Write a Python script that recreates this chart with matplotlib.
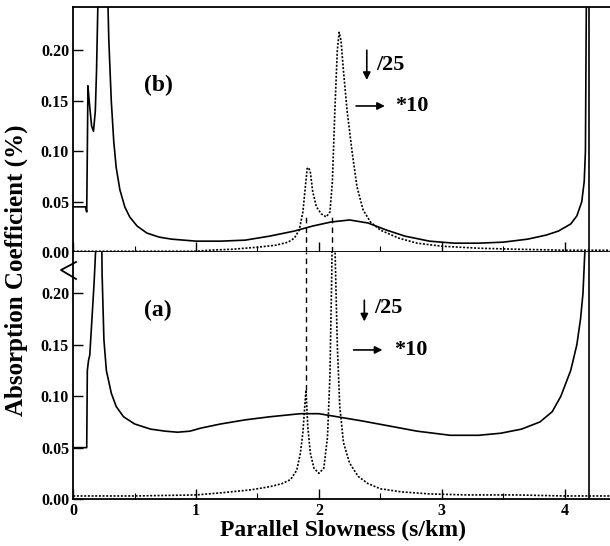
import numpy as np
import matplotlib
matplotlib.use("Agg")
from matplotlib import pyplot as plt
from matplotlib.lines import Line2D

plt.rcParams['font.family'] = ['Liberation Serif', 'DejaVu Serif']
plt.rcParams['font.weight'] = 'bold'

# panel (b), solid curve
xb_solid = [0, 0.10, 0.11, 0.115, 0.12, 0.13, 0.15, 0.165, 0.18, 0.19, 0.20, 0.22, 0.25,
            0.27, 0.28, 0.29, 0.31, 0.33, 0.35, 0.38, 0.42, 0.46, 0.52, 0.6, 0.7, 0.8,
            0.9, 1.0, 1.2, 1.4, 1.6, 1.8, 1.95, 2.1, 2.25, 2.4, 2.55, 2.7, 2.9, 3.1,
            3.3, 3.5, 3.7, 3.85, 3.95, 4.05, 4.1, 4.14, 4.16, 4.17, 4.18]
yb_solid = [0.045, 0.045, 0.04, 0.10, 0.165, 0.15, 0.125, 0.12, 0.14, 0.18, 0.24, 0.4, 0.6,
            0.4, 0.26, 0.21, 0.15, 0.11, 0.084, 0.062, 0.045, 0.035, 0.026, 0.019, 0.015, 0.013,
            0.012, 0.011, 0.011, 0.012, 0.016, 0.021, 0.026, 0.030, 0.032, 0.029, 0.022, 0.016, 0.011, 0.009,
            0.009, 0.010, 0.013, 0.017, 0.021, 0.028, 0.036, 0.05, 0.07, 0.10, 0.30]

# panel (b), dotted curve
xb_dot = [0, 0.5, 1.0, 1.1, 1.3, 1.5, 1.65, 1.75, 1.8, 1.84, 1.87, 1.89, 1.905, 1.915, 1.93,
          1.95, 1.98, 2.02, 2.06, 2.09, 2.11, 2.13, 2.15, 2.165, 2.18, 2.2, 2.23, 2.27, 2.31,
          2.36, 2.42, 2.5, 2.65, 2.8, 3.0, 3.3, 3.6, 4.0, 4.37]
yb_dot = [0.001, 0.001, 0.001, 0.002, 0.003, 0.005, 0.007, 0.010, 0.014, 0.022, 0.04, 0.065, 0.083, 0.084, 0.08,
          0.06, 0.045, 0.038, 0.035, 0.04, 0.07, 0.14, 0.2, 0.218, 0.21, 0.18, 0.14, 0.10, 0.065,
          0.042, 0.03, 0.022, 0.014, 0.009, 0.006, 0.004, 0.003, 0.002, 0.002]

# panel (a), solid curve
xa_solid = [0, 0.11, 0.115, 0.125, 0.135, 0.15, 0.17, 0.19, 0.21, 0.225, 0.235, 0.25, 0.27,
            0.31, 0.35, 0.41, 0.5, 0.63, 0.75, 0.85, 0.95, 1.04, 1.2, 1.4, 1.6, 1.85, 2.0,
            2.15, 2.35, 2.53, 2.8, 3.07, 3.3, 3.48, 3.65, 3.8, 3.9, 3.97, 4.05, 4.1, 4.13,
            4.15, 4.165, 4.18]
ya_solid = [0.05, 0.05, 0.125, 0.135, 0.14, 0.17, 0.21, 0.26, 0.35, 0.35, 0.22, 0.155, 0.125,
            0.103, 0.09, 0.08, 0.073, 0.068, 0.066, 0.065, 0.066, 0.069, 0.073, 0.077, 0.080, 0.083, 0.083,
            0.080, 0.076, 0.072, 0.066, 0.062, 0.062, 0.064, 0.068, 0.075, 0.085, 0.100, 0.125, 0.150, 0.175,
            0.20, 0.24, 0.35]

# panel (a), dotted curve
xa_dot = [0, 0.5, 1.0, 1.2, 1.45, 1.6, 1.7, 1.77, 1.82, 1.85, 1.87, 1.885, 1.895, 1.91, 1.93,
          1.96, 2.0, 2.04, 2.07, 2.09, 2.105, 2.115, 2.13, 2.15, 2.17, 2.2, 2.25, 2.32, 2.4,
          2.5, 2.67, 2.9, 3.2, 3.6, 4.0, 4.37]
ya_dot = [0.003, 0.003, 0.004, 0.006, 0.009, 0.012, 0.015, 0.019, 0.028, 0.045, 0.065, 0.09, 0.106, 0.07, 0.045,
          0.03, 0.025, 0.03, 0.06, 0.12, 0.22, 0.35, 0.25, 0.15, 0.09, 0.055, 0.035, 0.022, 0.015,
          0.01, 0.007, 0.005, 0.004, 0.004, 0.003, 0.003]

cutoff = 4.195         # vertical line in both panels
peaks = [1.895, 2.11]  # dashed markers
yticks = [0.00, 0.05, 0.10, 0.15, 0.20]
xticks = [0, 1, 2, 3, 4]

fig = plt.figure(figsize=(6.1, 5.46), dpi=100)
ax_b = fig.add_axes([0.12, 0.538, 0.88, 0.449])
ax_a = fig.add_axes([0.12, 0.086, 0.88, 0.452])

dot_style = dict(color='black', lw=1.2, linestyle=(0, (1.2, 1.0)))

for ax in (ax_a, ax_b):
    ax.set_xlim(0, 4.37)
    ax.set_xticks(xticks)
    ax.set_xticks(np.arange(0.5, 4.4, 1.0), minor=True)
    ax.set_yticks(yticks)
    ax.set_yticklabels(['%.2f' % v for v in yticks])
    ax.tick_params(direction='in', length=7, width=1.0, labelsize=11.5, top=False, right=False, pad=3)
    ax.tick_params(which='minor', direction='in', length=4, width=0.8, top=False)
    ax.spines['right'].set_visible(False)
    for s in ('left', 'bottom', 'top'):
        ax.spines[s].set_linewidth(1.3)
    ax.axvline(cutoff, color='black', lw=1.2)
    for lab in ax.get_xticklabels() + ax.get_yticklabels():
        lab.set_fontweight('bold')

ax_b.set_ylim(0, 0.243)
ax_a.set_ylim(0, 0.24)
ax_b.tick_params(labelbottom=False)
ax_a.spines['top'].set_visible(False)

# top panel (b)
ax_b.plot(xb_solid, yb_solid, color='black', lw=1.2)
ax_b.plot(xb_dot, yb_dot, **dot_style)
for p in peaks:
    ax_b.plot([p, p], [0, 0.035], color='black', lw=1.0, linestyle=(0, (4, 3)))
ax_b.text(0.69, 0.165, '(b)', fontsize=17, fontweight='bold', ha='center', va='center')
ax_b.annotate('', xy=(2.39, 0.168), xytext=(2.39, 0.203),
              arrowprops=dict(arrowstyle='-|>', color='black', lw=1.2, mutation_scale=11))
ax_b.text(2.47, 0.186, '/25', fontsize=16, fontweight='bold', va='center')
ax_b.annotate('', xy=(2.56, 0.145), xytext=(2.28, 0.145),
              arrowprops=dict(arrowstyle='-|>', color='black', lw=1.2, mutation_scale=11))
ax_b.text(2.62, 0.145, '*10', fontsize=16, fontweight='bold', va='center')

# bottom panel (a)
ax_a.plot(xa_solid, ya_solid, color='black', lw=1.2)
ax_a.plot(xa_dot, ya_dot, **dot_style)
ax_a.plot([peaks[0], peaks[0]], [0.106, 0.24], color='black', lw=1.0, linestyle=(0, (4, 3)))
ax_a.text(0.69, 0.183, '(a)', fontsize=17, fontweight='bold', ha='center', va='center')
ax_a.annotate('', xy=(2.37, 0.17), xytext=(2.37, 0.196),
              arrowprops=dict(arrowstyle='-|>', color='black', lw=1.2, mutation_scale=11))
ax_a.text(2.45, 0.186, '/25', fontsize=16, fontweight='bold', va='center')
ax_a.annotate('', xy=(2.54, 0.145), xytext=(2.26, 0.145),
              arrowprops=dict(arrowstyle='-|>', color='black', lw=1.2, mutation_scale=11))
ax_a.text(2.61, 0.145, '*10', fontsize=16, fontweight='bold', va='center')
ax_a.set_xticklabels([str(v) for v in xticks])

# break mark on the left axis
fig.add_artist(Line2D([76 / 610, 61 / 610, 76 / 610],
                      [1 - 262 / 546, 1 - 270 / 546, 1 - 279 / 546],
                      color='black', lw=1.3))

fig.text(0.027, 0.505, 'Absorption Coefficient (%)', rotation=90, fontsize=18,
         fontweight='bold', ha='center', va='center')
fig.text(0.562, 0.029, 'Parallel Slowness (s/km)', fontsize=17,
         fontweight='bold', ha='center', va='center')

fig.savefig('out.png', dpi=100)
